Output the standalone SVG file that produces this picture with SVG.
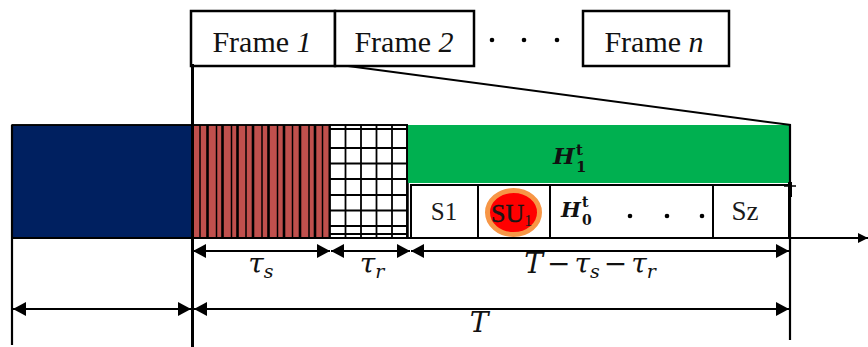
<svg xmlns="http://www.w3.org/2000/svg" width="868" height="347" viewBox="0 0 868 347">
  <style>
    .box { fill: #ffffff; stroke: #000000; stroke-width: 2.5; }
    .frame { font-family: "Liberation Serif", "Times New Roman", serif; font-size: 30px; fill: #111111; }
    .cell { font-family: "Liberation Serif", "Times New Roman", serif; fill: #1a1a1a; }
    .math { font-family: "DejaVu Serif", "Liberation Serif", serif; font-style: italic; fill: #111111; }
    .hyp { font-family: "DejaVu Serif", "Liberation Serif", serif; font-weight: bold; fill: #111111; }
    .edge { stroke: #000000; fill: none; }
    .thick { stroke: #000000; stroke-width: 2.6; }
    .thin { stroke: #000000; stroke-width: 1.5; }
    .gridline { stroke: #000000; stroke-width: 1.8; }
  </style>
  <defs>
    <marker id="dimArrow" viewBox="0 0 13 14" refX="13" refY="7" markerWidth="13" markerHeight="14" markerUnits="userSpaceOnUse" orient="auto-start-reverse">
      <path d="M0,0 L13,7 L0,14 Z" fill="#000000"/>
    </marker>
    <marker id="axisArrow" viewBox="0 0 10 10" refX="10" refY="5" markerWidth="10" markerHeight="10" markerUnits="userSpaceOnUse" orient="auto">
      <path d="M0,0 L10,5 L0,10 Z" fill="#000000"/>
    </marker>
  </defs>

  <!-- frame sequence -->
  <g id="frame1">
    <rect class="box" x="191" y="11" width="144" height="55"/>
    <text class="frame" x="262" y="52" text-anchor="middle">Frame <tspan font-style="italic">1</tspan></text>
  </g>
  <g id="frame2">
    <rect class="box" x="335" y="11" width="139" height="55"/>
    <text class="frame" x="404" y="52" text-anchor="middle">Frame <tspan font-style="italic">2</tspan></text>
  </g>
  <g id="frame-dots">
    <circle cx="492" cy="40" r="2.3" fill="#000"/>
    <circle cx="524" cy="40" r="2.3" fill="#000"/>
    <circle cx="557" cy="40" r="2.3" fill="#000"/>
  </g>
  <g id="frameN">
    <rect class="box" x="583" y="11" width="146" height="55"/>
    <text class="frame" x="654" y="52" text-anchor="middle">Frame <tspan font-style="italic">n</tspan></text>
  </g>

  <!-- previous slot -->
  <g id="prev-block">
    <rect x="12" y="125" width="180" height="113" fill="#002060" stroke="#000" stroke-width="1.5"/>
  </g>

  <!-- sensing period -->
  <g id="sensing">
    <rect x="192" y="125" width="138" height="113" fill="#c0504d" stroke="#000" stroke-width="1.5"/>
    <g class="thick">
      <line x1="207.5" y1="125" x2="207.5" y2="238"/>
      <line x1="222.5" y1="125" x2="222.5" y2="238"/>
      <line x1="237.5" y1="125" x2="237.5" y2="238"/>
      <line x1="253" y1="125" x2="253" y2="238"/>
      <line x1="268.5" y1="125" x2="268.5" y2="238"/>
      <line x1="284" y1="125" x2="284" y2="238"/>
      <line x1="300" y1="125" x2="300" y2="238"/>
      <line x1="315" y1="125" x2="315" y2="238"/>
    </g>
    <g class="thin">
      <line x1="200" y1="125" x2="200" y2="238"/>
      <line x1="216.5" y1="125" x2="216.5" y2="238"/>
      <line x1="231.5" y1="125" x2="231.5" y2="238"/>
      <line x1="246" y1="125" x2="246" y2="238"/>
      <line x1="262" y1="125" x2="262" y2="238"/>
      <line x1="277.5" y1="125" x2="277.5" y2="238"/>
      <line x1="292.5" y1="125" x2="292.5" y2="238"/>
      <line x1="309" y1="125" x2="309" y2="238"/>
      <line x1="322.5" y1="125" x2="322.5" y2="238"/>
    </g>
    <line x1="330" y1="125" x2="330" y2="238" stroke="#000" stroke-width="3"/>
  </g>

  <!-- reporting period -->
  <g id="reporting">
    <rect x="330" y="125" width="77" height="113" fill="#ffffff" stroke="#000" stroke-width="1.8"/>
    <g class="gridline">
      <line x1="345.5" y1="125" x2="345.5" y2="238"/>
      <line x1="361" y1="125" x2="361" y2="238"/>
      <line x1="376.5" y1="125" x2="376.5" y2="238"/>
      <line x1="392" y1="125" x2="392" y2="238"/>
      <line x1="330" y1="129" x2="407" y2="129"/>
      <line x1="330" y1="148" x2="407" y2="148"/>
      <line x1="330" y1="163.5" x2="407" y2="163.5"/>
      <line x1="330" y1="179" x2="407" y2="179"/>
      <line x1="330" y1="195" x2="407" y2="195"/>
      <line x1="330" y1="210.5" x2="407" y2="210.5"/>
      <line x1="330" y1="226" x2="407" y2="226"/>
      <line x1="330" y1="234" x2="407" y2="234"/>
    </g>
    <line x1="407.5" y1="125" x2="407.5" y2="238" stroke="#000" stroke-width="2.5"/>
  </g>

  <!-- transmission period: busy hypothesis -->
  <g id="h1-block">
    <rect x="408" y="125" width="382" height="58" fill="#00b050"/>
    <text class="hyp" x="553" y="164" font-size="23" font-style="italic">H</text>
    <text class="hyp" x="576" y="155" font-size="15">t</text>
    <text class="hyp" x="576" y="172" font-size="15">1</text>
  </g>

  <!-- transmission period: sub-slots -->
  <g id="slot-s1">
    <rect x="411" y="185" width="67" height="53" fill="#fff" stroke="#000" stroke-width="2"/>
    <text class="cell" x="444" y="220" font-size="25" text-anchor="middle">S1</text>
  </g>
  <g id="slot-su1">
    <rect x="478" y="185" width="72" height="53" fill="#fff" stroke="#000" stroke-width="2"/>
    <ellipse cx="513.5" cy="212.5" rx="26" ry="22" fill="#ff0000" stroke="#f79646" stroke-width="5"/>
    <text class="cell" x="491" y="222" font-size="26" fill="#111" stroke="#111" stroke-width="0.4">SU<tspan font-size="16" dy="4" stroke="none">1</tspan></text>
  </g>
  <g id="slot-h0">
    <rect x="550" y="185" width="163" height="53" fill="#fff" stroke="#000" stroke-width="2"/>
    <text class="hyp" x="561" y="217" font-size="21" font-style="italic">H</text>
    <text class="hyp" x="582" y="207" font-size="14">t</text>
    <text class="hyp" x="582" y="225" font-size="14">0</text>
    <circle cx="630" cy="216" r="2.3" fill="#000"/>
    <circle cx="667" cy="216" r="2.3" fill="#000"/>
    <circle cx="702" cy="216" r="2.3" fill="#000"/>
  </g>
  <g id="slot-sz">
    <rect x="713" y="185" width="76" height="53" fill="#fff" stroke="#000" stroke-width="2"/>
    <text class="cell" x="745" y="220" font-size="27" text-anchor="middle">Sz</text>
  </g>

  <!-- connectors, boundaries and dimensions -->
  <g id="connectors">
    <line class="edge" x1="348" y1="66" x2="791" y2="125" stroke-width="2"/>
    <line class="edge" x1="12" y1="125" x2="408" y2="125" stroke-width="1.5"/>

    <!-- boundaries -->
    <line class="edge" x1="12" y1="125" x2="12" y2="345" stroke-width="2.2"/>
    <line class="edge" x1="192.5" y1="64" x2="192.5" y2="347" stroke-width="3"/>
    <line class="edge" x1="790" y1="125" x2="790" y2="340" stroke-width="2.2"/>
    <line class="edge" x1="790" y1="182" x2="790" y2="197" stroke-width="4"/>
    <line class="edge" x1="784" y1="186" x2="796" y2="186" stroke-width="1.5"/>

    <!-- time axis -->
    <line class="edge" x1="12" y1="238" x2="868" y2="238" stroke-width="2" marker-end="url(#axisArrow)"/>

    <!-- durations -->
    <line class="edge" x1="193" y1="251" x2="330" y2="251" stroke-width="2" marker-start="url(#dimArrow)" marker-end="url(#dimArrow)"/>
    <line class="edge" x1="331" y1="251" x2="410" y2="251" stroke-width="2" marker-start="url(#dimArrow)" marker-end="url(#dimArrow)"/>
    <line class="edge" x1="411" y1="251" x2="789" y2="251" stroke-width="2" marker-start="url(#dimArrow)" marker-end="url(#dimArrow)"/>
    <line class="edge" x1="13" y1="309" x2="191" y2="309" stroke-width="2" marker-start="url(#dimArrow)" marker-end="url(#dimArrow)"/>
    <line class="edge" x1="194" y1="309" x2="789" y2="309" stroke-width="2" marker-start="url(#dimArrow)" marker-end="url(#dimArrow)"/>
  </g>

  <!-- duration labels -->
  <g id="labels">
    <text class="math" x="261" y="273" font-size="28" text-anchor="middle">τ<tspan font-size="19" dy="5">s</tspan></text>
    <text class="math" x="372" y="273" font-size="28" text-anchor="middle">τ<tspan font-size="19" dy="5">r</tspan></text>
    <text class="math" x="590" y="273" font-size="28" text-anchor="middle">T<tspan font-style="normal" dx="4">−</tspan><tspan dx="4">τ</tspan><tspan font-size="19" dy="5">s</tspan><tspan font-style="normal" dx="4" dy="-5">−</tspan><tspan dx="4">τ</tspan><tspan font-size="19" dy="5">r</tspan></text>
    <text class="math" x="479" y="332" font-size="28" text-anchor="middle">T</text>
  </g>
</svg>
